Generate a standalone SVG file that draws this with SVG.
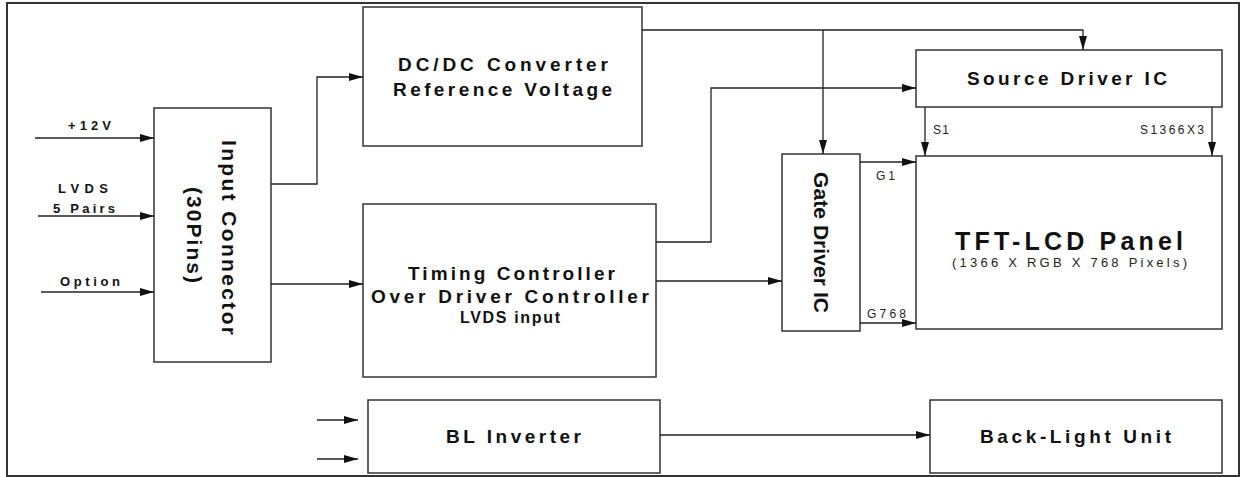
<svg xmlns="http://www.w3.org/2000/svg" width="1244" height="477" viewBox="0 0 1244 477">
<style>
.box{fill:#fff;stroke:#333;stroke-width:1.5}
.ln{fill:none;stroke:#222;stroke-width:1.3}
.b{font-family:"Liberation Sans",Arial,sans-serif;font-weight:bold;fill:#111}
.r{font-family:"Liberation Sans",Arial,sans-serif;fill:#222}
</style>
<defs>
<marker id="ah" markerUnits="userSpaceOnUse" markerWidth="14" markerHeight="8" refX="14" refY="4" orient="auto">
<path d="M0,0 L14,4 L0,8 z" fill="#111"/>
</marker>
</defs>
<rect x="0" y="0" width="1244" height="477" fill="#fff"/>
<rect x="7" y="3" width="1232" height="473" fill="none" stroke="#333" stroke-width="2"/>

<g id="input-connector">
<rect class="box" x="154" y="108" width="117" height="254"/>
<g transform="translate(222,140) rotate(90)">
<text class="b" x="0" y="0" font-size="21" textLength="195" lengthAdjust="spacing">Input Connector</text>
<text class="b" x="47" y="35" font-size="21" textLength="96" lengthAdjust="spacing">(30Pins)</text>
</g>
</g>

<g id="dcdc">
<rect class="box" x="363" y="7" width="279" height="139"/>
<text class="b" x="398" y="71" font-size="19" textLength="210" lengthAdjust="spacing">DC/DC Converter</text>
<text class="b" x="393" y="96" font-size="19" textLength="219" lengthAdjust="spacing">Reference Voltage</text>
</g>

<g id="timing">
<rect class="box" x="363" y="204" width="293" height="173"/>
<text class="b" x="408" y="280" font-size="19" textLength="207" lengthAdjust="spacing">Timing Controller</text>
<text class="b" x="371" y="303" font-size="19" textLength="278" lengthAdjust="spacing">Over Driver Controller</text>
<text class="b" x="460" y="323" font-size="16" textLength="100" lengthAdjust="spacing">LVDS input</text>
</g>

<g id="source-driver">
<rect class="box" x="916" y="50" width="306" height="57"/>
<text class="b" x="967" y="85" font-size="19" textLength="200" lengthAdjust="spacing">Source Driver IC</text>
</g>

<g id="gate-driver">
<rect class="box" x="782" y="154" width="78" height="177"/>
<g transform="translate(814,172) rotate(90)">
<text class="b" x="0" y="0" font-size="21" textLength="141" lengthAdjust="spacing">Gate Driver IC</text>
</g>
</g>

<g id="tft-panel">
<rect class="box" x="916" y="156" width="306" height="173"/>
<text class="b" x="955" y="250" font-size="25" textLength="228" lengthAdjust="spacing">TFT-LCD Panel</text>
<text class="r" x="952" y="267" font-size="13" textLength="235" lengthAdjust="spacing">(1366 X RGB X 768 Pixels)</text>
</g>

<g id="bl-inverter">
<rect class="box" x="368" y="400" width="292" height="73"/>
<text class="b" x="446" y="443" font-size="19" textLength="135" lengthAdjust="spacing">BL Inverter</text>
</g>

<g id="backlight">
<rect class="box" x="930" y="400" width="292" height="73"/>
<text class="b" x="980" y="443" font-size="19" textLength="191" lengthAdjust="spacing">Back-Light Unit</text>
</g>

<g id="connectors">
<polyline class="ln" points="35,138 154,138" marker-end="url(#ah)"/>
<polyline class="ln" points="38,216 154,216" marker-end="url(#ah)"/>
<polyline class="ln" points="41,292 154,292" marker-end="url(#ah)"/>
<polyline class="ln" points="271,184 317,184 317,77 363,77" marker-end="url(#ah)"/>
<polyline class="ln" points="271,284 363,284" marker-end="url(#ah)"/>
<polyline class="ln" points="642,30 1083,30 1083,50" marker-end="url(#ah)"/>
<polyline class="ln" points="823,30 823,154" marker-end="url(#ah)"/>
<polyline class="ln" points="656,242 711,242 711,88 916,88" marker-end="url(#ah)"/>
<polyline class="ln" points="656,281 782,281" marker-end="url(#ah)"/>
<polyline class="ln" points="860,162 916,162" marker-end="url(#ah)"/>
<polyline class="ln" points="860,323 916,323" marker-end="url(#ah)"/>
<polyline class="ln" points="925,107 925,156" marker-end="url(#ah)"/>
<polyline class="ln" points="1212,107 1212,156" marker-end="url(#ah)"/>
<polyline class="ln" points="317,420 358,420" marker-end="url(#ah)"/>
<polyline class="ln" points="317,459 358,459" marker-end="url(#ah)"/>
<polyline class="ln" points="660,435 930,435" marker-end="url(#ah)"/>
<text class="b" x="68" y="130" font-size="13" textLength="43" lengthAdjust="spacing">+12V</text>
<text class="b" x="58" y="193" font-size="13" textLength="50" lengthAdjust="spacing">LVDS</text>
<text class="b" x="53" y="213" font-size="13" textLength="62" lengthAdjust="spacing">5 Pairs</text>
<text class="b" x="60" y="286" font-size="13" textLength="60" lengthAdjust="spacing">Option</text>
<text class="r" x="933" y="134" font-size="12" textLength="16" lengthAdjust="spacing">S1</text>
<text class="r" x="1140" y="134" font-size="12" textLength="64" lengthAdjust="spacing">S1366X3</text>
<text class="r" x="876" y="180" font-size="12" textLength="19" lengthAdjust="spacing">G1</text>
<text class="r" x="867" y="318" font-size="12" textLength="39" lengthAdjust="spacing">G768</text>
</g>
</svg>
